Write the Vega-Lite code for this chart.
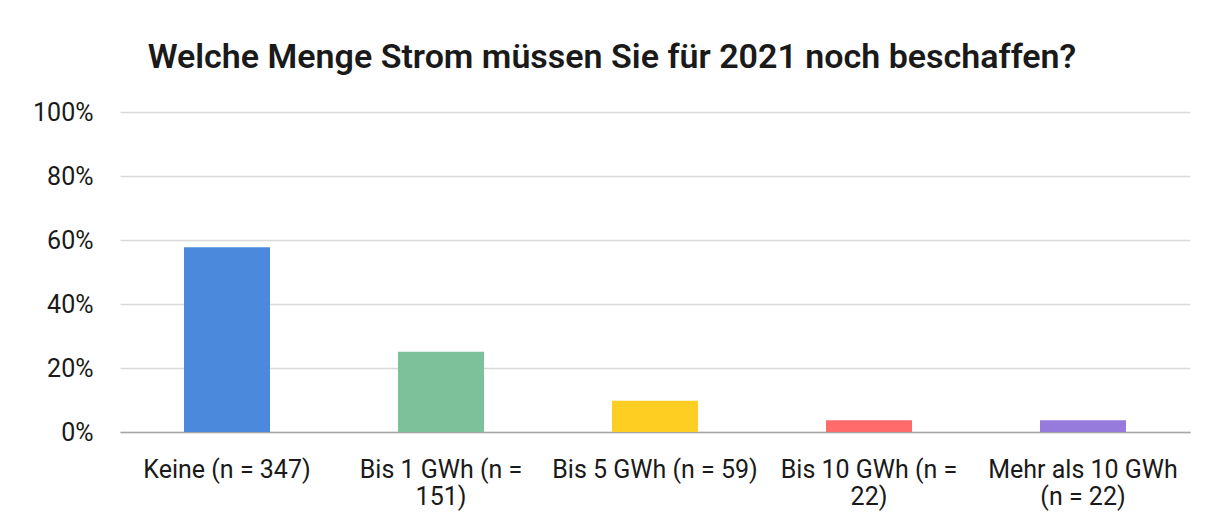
{
  "$schema": "https://vega.github.io/schema/vega-lite/v6.json",
  "width": 1070,
  "height": 320,
  "autosize": {"type": "none"},
  "padding": {"left": 120, "top": 112, "right": 24, "bottom": 91},
  "background": "white",
  "title": {
    "text": "Welche Menge Strom müssen Sie für 2021 noch beschaffen?",
    "font": "Roboto",
    "fontSize": 34,
    "fontWeight": 600,
    "color": "#1a1a1a",
    "anchor": "middle",
    "baseline": "alphabetic",
    "offset": 44,
    "dy": 46,
    "dx": -43
  },
  "data": {
    "values": [
      {"kategorie": "Keine (n = 347)", "anteil": 0.577},
      {"kategorie": "Bis 1 GWh (n = 151)", "anteil": 0.251},
      {"kategorie": "Bis 5 GWh (n = 59)", "anteil": 0.098},
      {"kategorie": "Bis 10 GWh (n = 22)", "anteil": 0.037},
      {"kategorie": "Mehr als 10 GWh (n = 22)", "anteil": 0.037}
    ]
  },
  "mark": {"type": "bar"},
  "encoding": {
    "x": {
      "field": "kategorie",
      "type": "nominal",
      "sort": null,
      "scale": {"paddingInner": 0.598, "paddingOuter": 0.299},
      "axis": {
        "title": null,
        "labelAngle": 0,
        "ticks": false,
        "domainColor": "#a6a6a6",
        "domainWidth": 1.5,
        "labelFont": "Roboto",
        "labelFontSize": 25,
        "labelColor": "#1a1a1a",
        "labelPadding": 25,
        "labelLineHeight": 27,
        "labelLimit": 0,
        "labelExpr": "datum.label == 'Bis 1 GWh (n = 151)' ? ['Bis 1 GWh (n =', '151)'] : datum.label == 'Bis 10 GWh (n = 22)' ? ['Bis 10 GWh (n =', '22)'] : datum.label == 'Mehr als 10 GWh (n = 22)' ? ['Mehr als 10 GWh', '(n = 22)'] : datum.label"
      }
    },
    "y": {
      "field": "anteil",
      "type": "quantitative",
      "scale": {"domain": [0, 1]},
      "axis": {
        "title": null,
        "values": [0, 0.2, 0.4, 0.6, 0.8, 1],
        "format": ".0%",
        "domain": false,
        "ticks": false,
        "gridColor": "#d9d9d9",
        "gridWidth": 1.5,
        "labelFont": "Roboto",
        "labelFontSize": 25,
        "labelColor": "#1a1a1a",
        "labelPadding": 27
      }
    },
    "color": {
      "field": "kategorie",
      "type": "nominal",
      "sort": null,
      "scale": {"range": ["#4a89dc", "#7dc19a", "#ffce22", "#ff6b6b", "#967adc"]},
      "legend": null
    }
  },
  "config": {"view": {"stroke": null}}
}
